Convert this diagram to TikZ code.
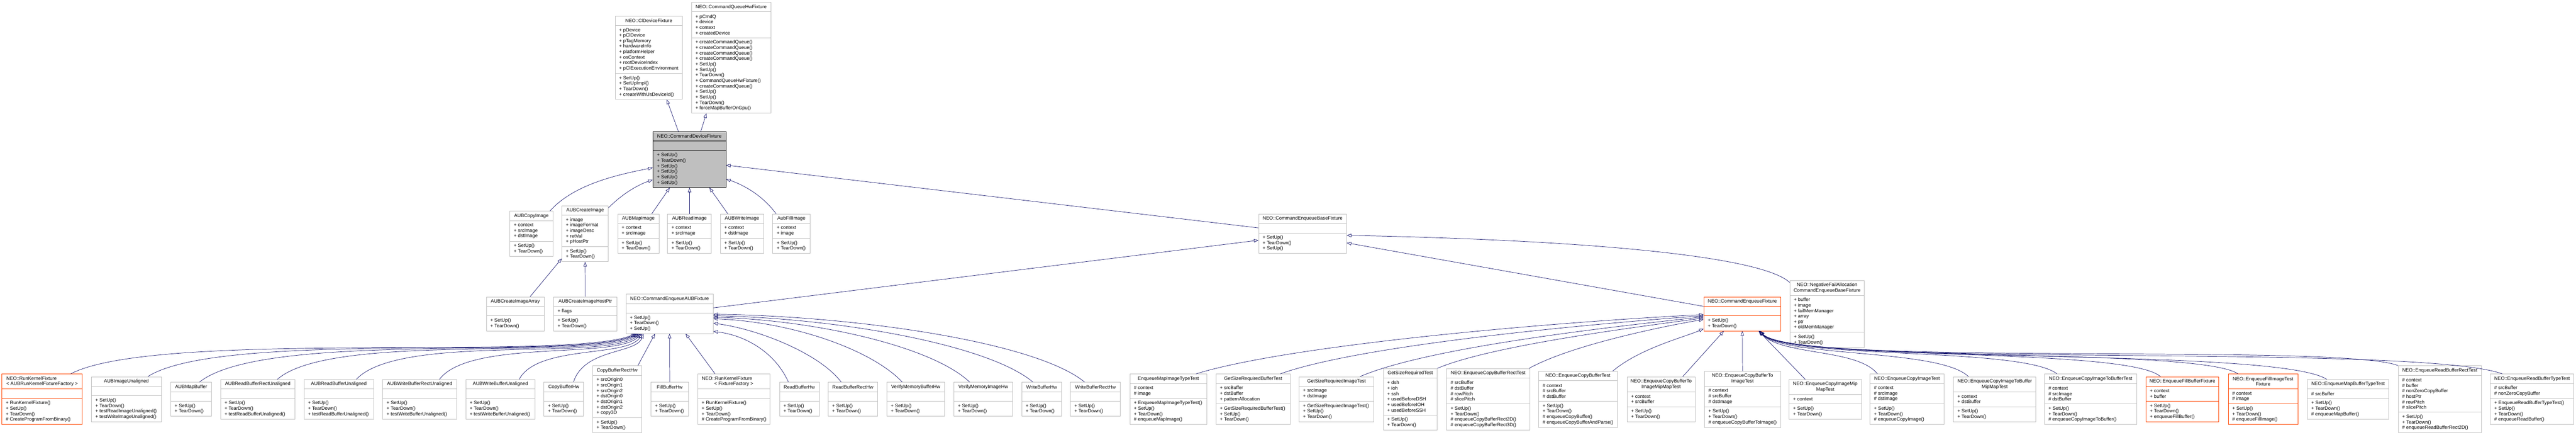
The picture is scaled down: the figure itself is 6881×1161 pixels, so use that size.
\documentclass[tikz,border=0pt]{standalone}
\usepackage{fontspec}
\setmainfont{Liberation Sans}[Ligatures=CommonOff]
\usetikzlibrary{arrows.meta}
\definecolor{edgeblue}{HTML}{191970}
\definecolor{boxgray}{HTML}{BFBFBF}
\definecolor{boxorange}{HTML}{FF4500}
\definecolor{fillgray}{HTML}{BFBFBF}
\tikzset{
  cls/.style={draw=boxgray, fill=white, line width=1pt, inner sep=0pt},
  cls sep/.style={draw=boxgray, line width=1pt},
  clsorange/.style={draw=boxorange, fill=white, line width=1pt, inner sep=0pt},
  clsorange sep/.style={draw=boxorange, line width=1pt},
  clsgray/.style={draw=black, fill=fillgray, line width=1pt, inner sep=0pt},
  clsgray sep/.style={draw=black, line width=1pt},
  txt/.style={inner sep=0pt, font=\fontsize{12.8}{14.67}\selectfont},
  inh/.style={draw=edgeblue, line width=1pt, -{Triangle[open, length=12pt, width=9pt]}},
}
\def\ubparse#1,#2,#3\relax{\def\ubNT{#1}\def\ubNA{#2}\def\ubNM{#3}}
\newcommand\umlbox[9][cls]{%
  \ubparse#6\relax
  \pgfmathsetmacro\ubHA{\ubNT*14.67+10.7}%
  \pgfmathsetmacro\ubHB{max(\ubNA,1)*14.67+10.7}%
  \pgfmathsetmacro\ubHC{max(\ubNM,1)*14.67+10.7}%
  \pgfmathsetmacro\ubHT{\ubHA+\ubHB+\ubHC}%
  \pgfmathsetmacro\ubYT{#5-\ubHT/2}%
  \pgfmathsetmacro\ubYS{\ubYT+\ubHA}%
  \pgfmathsetmacro\ubYU{\ubYT+\ubHA+\ubHB}%
  \pgfmathsetmacro\ubXC{(#3+#4)/2}%
  \pgfmathsetmacro\ubWB{#4-#3}%
  \node[#1, minimum width=\ubWB pt, minimum height=\ubHT pt] (#2) at (\ubXC,#5) {};
  \draw[#1 sep] (#3,\ubYS) -- (#4,\ubYS);
  \draw[#1 sep] (#3,\ubYU) -- (#4,\ubYU);
  \node[txt, align=center] at (\ubXC,\ubYT+\ubHA/2) {#7};
  \node[txt, align=left, anchor=west] at (#3+10.5,\ubYS+\ubHB/2) {#8};
  \node[txt, align=left, anchor=west] at (#3+10.5,\ubYU+\ubHC/2) {#9};
}
\begin{document}
\begin{tikzpicture}[x=1pt,y=-1pt]
\useasboundingbox (0,0) rectangle (6881,1161);
\fill[white] (0,0) rectangle (6881,1161);

% ---- top row
\umlbox{cldf}{1643}{1823}{154}{1,8,4}{NEO::ClDeviceFixture}{+ pDevice\\+ pClDevice\\+ pTagMemory\\+ hardwareInfo\\+ platformHelper\\+ osContext\\+ rootDeviceIndex\\+ pClExecutionEnvironment}{+ SetUp()\\+ SetUpImpl()\\+ TearDown()\\+ createWithUsDeviceId()}
\umlbox{cqhf}{1847}{2059}{154}{1,4,13}{NEO::CommandQueueHwFixture}{+ pCmdQ\\+ device\\+ context\\+ createdDevice}{+ createCommandQueue()\\+ createCommandQueue()\\+ createCommandQueue()\\+ createCommandQueue()\\+ SetUp()\\+ SetUp()\\+ TearDown()\\+ CommandQueueHwFixture()\\+ createCommandQueue()\\+ SetUp()\\+ SetUp()\\+ TearDown()\\+ forceMapBufferOnGpu()}
\umlbox[clsgray]{cdf}{1744}{1939}{426}{1,0,6}{NEO::CommandDeviceFixture}{}{+ SetUp()\\+ TearDown()\\+ SetUp()\\+ SetUp()\\+ SetUp()\\+ SetUp()}

% ---- second row
\umlbox{aci}{1362}{1477}{624}{1,3,2}{AUBCopyImage}{+ context\\+ srcImage\\+ dstImage}{+ SetUp()\\+ TearDown()}
\umlbox{acr}{1501}{1625}{624}{1,5,2}{AUBCreateImage}{+ image\\+ imageFormat\\+ imageDesc\\+ retVal\\+ pHostPtr}{+ SetUp()\\+ TearDown()}
\umlbox{ami}{1650}{1760}{624}{1,2,2}{AUBMapImage}{+ context\\+ srcImage}{+ SetUp()\\+ TearDown()}
\umlbox{ari}{1783}{1900}{624}{1,2,2}{AUBReadImage}{+ context\\+ srcImage}{+ SetUp()\\+ TearDown()}
\umlbox{awi}{1924}{2040}{624}{1,2,2}{AUBWriteImage}{+ context\\+ dstImage}{+ SetUp()\\+ TearDown()}
\umlbox{afi}{2064}{2164}{624}{1,2,2}{AubFillImage}{+ context\\+ image}{+ SetUp()\\+ TearDown()}
\umlbox{ceb}{3362}{3597}{624}{1,0,3}{NEO::CommandEnqueueBaseFixture}{}{+ SetUp()\\+ TearDown()\\+ SetUp()}

% ---- third row
\umlbox{acia}{1299}{1454}{838}{1,0,2}{AUBCreateImageArray}{}{+ SetUp()\\+ TearDown()}
\umlbox{acih}{1479}{1648}{838}{1,1,2}{AUBCreateImageHostPtr}{+ flags}{+ SetUp()\\+ TearDown()}
\umlbox{ceaub}{1672}{1905}{838}{1,0,3}{NEO::CommandEnqueueAUBFixture}{}{+ SetUp()\\+ TearDown()\\+ SetUp()}
\umlbox[clsorange]{cef}{4551}{4757}{838}{1,0,2}{NEO::CommandEnqueueFixture}{}{+ SetUp()\\+ TearDown()}
\umlbox{nfa}{4781}{4980}{838}{2,6,2}{NEO::NegativeFailAllocation\\CommandEnqueueBaseFixture}{+ buffer\\+ image\\+ failMemManager\\+ array\\+ ptr\\+ oldMemManager}{+ SetUp()\\+ TearDown()}

% ---- bottom row
\umlbox[clsorange]{rk1}{5}{220}{1066}{2,0,4}{\hbox to 191pt{NEO::RunKernelFixture\hfil}\\< AUBRunKernelFixtureFactory >}{}{+ RunKernelFixture()\\+ SetUp()\\+ TearDown()\\\# CreateProgramFromBinary()}
\umlbox{aiu}{244}{431}{1066}{1,0,4}{AUBImageUnaligned}{}{+ SetUp()\\+ TearDown()\\+ testReadImageUnaligned()\\+ testWriteImageUnaligned()}
\umlbox{amb}{456}{565}{1066}{1,0,2}{AUBMapBuffer}{}{+ SetUp()\\+ TearDown()}
\umlbox{arbr}{589}{788}{1066}{1,0,3}{AUBReadBufferRectUnaligned}{}{+ SetUp()\\+ TearDown()\\+ testReadBufferUnaligned()}
\umlbox{arbu}{812}{998}{1066}{1,0,3}{AUBReadBufferUnaligned}{}{+ SetUp()\\+ TearDown()\\+ testReadBufferUnaligned()}
\umlbox{awbr}{1022}{1220}{1066}{1,0,3}{AUBWriteBufferRectUnaligned}{}{+ SetUp()\\+ TearDown()\\+ testWriteBufferUnaligned()}
\umlbox{awbu}{1244}{1429}{1066}{1,0,3}{AUBWriteBufferUnaligned}{}{+ SetUp()\\+ TearDown()\\+ testWriteBufferUnaligned()}
\umlbox{cbh}{1453}{1559}{1066}{1,0,2}{CopyBufferHw}{}{+ SetUp()\\+ TearDown()}
\umlbox{cbrh}{1583}{1714}{1066}{1,7,2}{CopyBufferRectHw}{+ srcOrigin0\\+ srcOrigin1\\+ srcOrigin2\\+ dstOrigin0\\+ dstOrigin1\\+ dstOrigin2\\+ copy3D}{+ SetUp()\\+ TearDown()}
\umlbox{fbh}{1739}{1839}{1066}{1,0,2}{FillBufferHw}{}{+ SetUp()\\+ TearDown()}
\umlbox{rk2}{1864}{2056}{1066}{2,0,4}{\hbox to 170pt{NEO::RunKernelFixture\hfil}\\< FixtureFactory >}{}{+ RunKernelFixture()\\+ SetUp()\\+ TearDown()\\\# CreateProgramFromBinary()}
\umlbox{rbh}{2082}{2188}{1066}{1,0,2}{ReadBufferHw}{}{+ SetUp()\\+ TearDown()}
\umlbox{rbrh}{2212}{2344}{1066}{1,0,2}{ReadBufferRectHw}{}{+ SetUp()\\+ TearDown()}
\umlbox{vmbh}{2369}{2523}{1066}{1,0,2}{VerifyMemoryBufferHw}{}{+ SetUp()\\+ TearDown()}
\umlbox{vmih}{2548}{2705}{1066}{1,0,2}{VerifyMemoryImageHw}{}{+ SetUp()\\+ TearDown()}
\umlbox{wbh}{2729}{2836}{1066}{1,0,2}{WriteBufferHw}{}{+ SetUp()\\+ TearDown()}
\umlbox{wbrh}{2859}{2993}{1066}{1,0,2}{WriteBufferRectHw}{}{+ SetUp()\\+ TearDown()}
\umlbox{emit}{3018}{3224}{1066}{1,2,4}{EnqueueMapImageTypeTest}{\# context\\\# image}{+ EnqueueMapImageTypeTest()\\+ SetUp()\\+ TearDown()\\\# enqueueMapImage()}
\umlbox{gsrb}{3248}{3447}{1066}{1,3,3}{GetSizeRequiredBufferTest}{+ srcBuffer\\+ dstBuffer\\+ patternAllocation}{+ GetSizeRequiredBufferTest()\\+ SetUp()\\+ TearDown()}
\umlbox{gsri}{3470}{3670}{1066}{1,2,3}{GetSizeRequiredImageTest}{+ srcImage\\+ dstImage}{+ GetSizeRequiredImageTest()\\+ SetUp()\\+ TearDown()}
\umlbox{gsrt}{3695}{3839}{1066}{1,6,2}{GetSizeRequiredTest}{+ dsh\\+ ioh\\+ ssh\\+ usedBeforeDSH\\+ usedBeforeIOH\\+ usedBeforeSSH}{+ SetUp()\\+ TearDown()}
\umlbox{ecbr}{3864}{4086}{1066}{1,4,4}{NEO::EnqueueCopyBufferRectTest}{\# srcBuffer\\\# dstBuffer\\\# rowPitch\\\# slicePitch}{+ SetUp()\\+ TearDown()\\\# enqueueCopyBufferRect2D()\\\# enqueueCopyBufferRect3D()}
\umlbox{ecb}{4110}{4320}{1066}{1,3,4}{NEO::EnqueueCopyBufferTest}{\# context\\\# srcBuffer\\\# dstBuffer}{+ SetUp()\\+ TearDown()\\\# enqueueCopyBuffer()\\\# enqueueCopyBufferAndParse()}
\umlbox{ecbtimm}{4346}{4528}{1066}{2,2,2}{NEO::EnqueueCopyBufferTo\\ImageMipMapTest}{+ context\\+ srcBuffer}{+ SetUp()\\+ TearDown()}
\umlbox{ecbti}{4553}{4756}{1066}{2,3,3}{NEO::EnqueueCopyBufferTo\\ImageTest}{\# context\\\# srcBuffer\\\# dstImage}{+ SetUp()\\+ TearDown()\\\# enqueueCopyBufferToImage()}
\umlbox{ecimm}{4779}{4972}{1066}{2,1,2}{NEO::EnqueueCopyImageMip\\MapTest}{+ context}{+ SetUp()\\+ TearDown()}
\umlbox{eci}{4995}{5193}{1066}{1,3,3}{NEO::EnqueueCopyImageTest}{\# context\\\# srcImage\\\# dstImage}{+ SetUp()\\+ TearDown()\\\# enqueueCopyImage()}
\umlbox{ecitbmm}{5218}{5438}{1066}{2,2,2}{NEO::EnqueueCopyImageToBuffer\\MipMapTest}{+ context\\+ dstBuffer}{+ SetUp()\\+ TearDown()}
\umlbox{ecitb}{5461}{5708}{1066}{1,3,3}{NEO::EnqueueCopyImageToBufferTest}{\# context\\\# srcImage\\\# dstBuffer}{+ SetUp()\\+ TearDown()\\\# enqueueCopyImageToBuffer()}
\umlbox[clsorange]{efbf}{5732}{5927}{1066}{1,2,3}{NEO::EnqueueFillBufferFixture}{+ context\\+ buffer}{+ SetUp()\\+ TearDown()\\+ enqueueFillBuffer()}
\umlbox[clsorange]{efitf}{5952}{6138}{1066}{2,2,3}{NEO::EnqueueFillImageTest\\Fixture}{\# context\\\# image}{+ SetUp()\\+ TearDown()\\\# enqueueFillImage()}
\umlbox{embt}{6163}{6381}{1066}{1,1,3}{NEO::EnqueueMapBufferTypeTest}{\# srcBuffer}{+ SetUp()\\+ TearDown()\\\# enqueueMapBuffer()}
\umlbox{erbr}{6406}{6628}{1066}{1,6,3}{NEO::EnqueueReadBufferRectTest}{\# context\\\# buffer\\\# nonZeroCopyBuffer\\\# hostPtr\\\# rowPitch\\\# slicePitch}{+ SetUp()\\+ TearDown()\\\# enqueueReadBufferRect2D()}
\umlbox{erbt}{6652}{6875}{1066}{1,2,4}{NEO::EnqueueReadBufferTypeTest}{\# srcBuffer\\\# nonZeroCopyBuffer}{+ EnqueueReadBufferTypeTest()\\+ SetUp()\\+ TearDown()\\\# enqueueReadBuffer()}

% ---- connectors: top
\draw[inh] ([xshift=-29.5pt]cdf.north) -- ([xshift=48pt]cldf.south);
\draw[inh] ([xshift=30.5pt]cdf.north) -- ([xshift=-66pt]cqhf.south);
\draw[inh] ([xshift=49.5pt]aci.north) .. controls (1530,495) and (1640,468) .. ([yshift=-22pt]cdf.west);
\draw[inh] ([yshift=-6pt]acr.north east) .. controls (1660,520) and (1700,495) .. ([yshift=-54pt]cdf.west);
\draw[inh] ([xshift=36pt]ami.north) -- ([xshift=-52.5pt]cdf.south);
\draw[inh] ([xshift=0.5pt]ari.north) -- ([xshift=0.5pt]cdf.south);
\draw[inh] ([xshift=-38pt]awi.north) -- ([xshift=53.5pt]cdf.south);
\draw[inh] ([xshift=-41pt]afi.north) .. controls (2040,525) and (1990,495) .. ([yshift=-52pt]cdf.east);
\draw[inh] ([yshift=15.5pt]ceb.west) -- ([yshift=-15pt]cdf.east);
% ---- connectors: third row
\draw[inh] ([xshift=39.5pt]acia.north) -- ([yshift=9pt]acr.south west);
\draw[inh] (acih.north) -- (acr.south);
\draw[inh] ([yshift=16pt]ceaub.east) -- ([yshift=-17.5pt]ceb.west);
\draw[inh] ([yshift=20pt]cef.west) -- ([yshift=-24.5pt]ceb.east);
\draw[inh] ([yshift=-6pt]nfa.north west) .. controls (4700,680) and (4200,640) .. ([yshift=-4.5pt]ceb.east);
% ---- connectors: bottom row to CommandEnqueueAUBFixture
\draw[inh] ([xshift=76.5pt]rk1.north) .. controls (415,880) and (1517,965) .. ([xshift=26pt]ceaub.south west);
\draw[inh] ([xshift=57.5pt]aiu.north) .. controls (591,880) and (1544,965) .. ([xshift=29pt]ceaub.south west);
\draw[inh] ([xshift=22.5pt]amb.north) .. controls (709,880) and (1563,965) .. ([xshift=32pt]ceaub.south west);
\draw[inh] ([xshift=52.5pt]arbr.north) .. controls (886,885) and (1591,965) .. ([xshift=35pt]ceaub.south west);
\draw[inh] ([xshift=47pt]arbu.north) .. controls (1066,890) and (1619,965) .. ([xshift=38pt]ceaub.south west);
\draw[inh] ([xshift=53pt]awbr.north) .. controls (1255,905) and (1648,960) .. ([xshift=41pt]ceaub.south west);
\draw[inh] ([xshift=50.5pt]awbu.north) .. controls (1436,920) and (1676,955) .. ([xshift=44pt]ceaub.south west);
\draw[inh] ([xshift=26pt]cbh.north) .. controls (1560,930) and (1700,945) .. ([xshift=47pt]ceaub.south west);
\draw[inh] ([xshift=55.5pt]cbrh.north) -- ([xshift=78pt]ceaub.south west);
\draw[inh] (fbh.north) -- (ceaub.south);
\draw[inh] ([xshift=-50pt]rk2.north) -- ([xshift=160pt]ceaub.south west);
\draw[inh] ([xshift=-29pt]rbh.north) .. controls (2070,940) and (1990,895) .. ([yshift=-47pt]ceaub.east);
\draw[inh] ([xshift=-31pt]rbrh.north) .. controls (2190,945) and (2030,880) .. ([yshift=-25pt]ceaub.east);
\draw[inh] ([xshift=-36pt]vmbh.north) .. controls (2330,935) and (2120,860) .. ([yshift=-13pt]ceaub.east);
\draw[inh] ([xshift=-36.5pt]vmih.north) .. controls (2490,925) and (2180,855) .. ([yshift=-9pt]ceaub.east);
\draw[inh] ([xshift=-23.5pt]wbh.north) .. controls (2640,920) and (2240,850) .. ([yshift=-5pt]ceaub.east);
\draw[inh] ([xshift=-29pt]wbrh.north) .. controls (2770,915) and (2300,845) .. ([yshift=-1pt]ceaub.east);
% ---- connectors: bottom row to CommandEnqueueFixture
\draw[inh] ([xshift=74pt]emit.north) .. controls (3450,920) and (4150,860) .. ([yshift=-2pt]cef.west);
\draw[inh] ([xshift=72.5pt]gsrb.north) .. controls (3640,920) and (4250,865) .. ([yshift=-5pt]cef.west);
\draw[inh] ([xshift=63pt]gsri.north) .. controls (3820,925) and (4330,870) .. ([yshift=-8pt]cef.west);
\draw[inh] (gsrt.north east) .. controls (3990,920) and (4400,870) .. ([yshift=-11pt]cef.west);
\draw[inh] ([xshift=-2pt]ecbr.north east) .. controls (4200,920) and (4450,870) .. ([yshift=-15pt]cef.west);
\draw[inh] ([xshift=93pt]ecb.north) .. controls (4380,930) and (4500,900) .. ([yshift=6pt]cef.south west);
\draw[inh] ([xshift=58pt]ecbtimm.north) -- ([xshift=54pt]cef.south west);
\draw[inh] (ecbti.north) -- (cef.south);
\draw[inh] ([xshift=-53.5pt]ecimm.north) -- ([xshift=-60pt]cef.south east);
\draw[inh] ([xshift=-79pt]eci.north) .. controls (4960,930) and (4760,950) .. ([xshift=-59pt]cef.south east);
\draw[inh] ([xshift=-70pt]ecitbmm.north) .. controls (5180,930) and (4765,955) .. ([xshift=-59pt]cef.south east);
\draw[inh] ([xshift=-90pt]ecitb.north) .. controls (5400,925) and (4770,960) .. ([xshift=-58pt]cef.south east);
\draw[inh] ([xshift=-58.5pt]efbf.north) .. controls (5680,925) and (4775,965) .. ([xshift=-58pt]cef.south east);
\draw[inh] ([xshift=-67pt]efitf.north) .. controls (5870,925) and (4780,970) .. ([xshift=-57pt]cef.south east);
\draw[inh] ([xshift=-57pt]embt.north) .. controls (6080,925) and (4785,975) .. ([xshift=-57pt]cef.south east);
\draw[inh] (erbr.north west) .. controls (6250,915) and (4790,980) .. ([xshift=-56pt]cef.south east);
\draw[inh] ([xshift=-79.5pt]erbt.north) .. controls (6450,915) and (4795,985) .. ([xshift=-56pt]cef.south east);
\end{tikzpicture}
\end{document}
